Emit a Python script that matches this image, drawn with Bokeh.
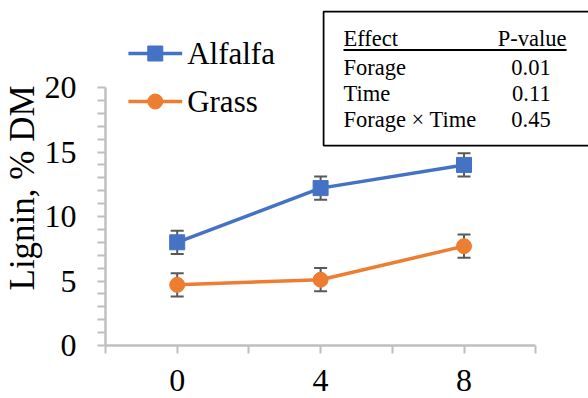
from bokeh.core.properties import value
from bokeh.embed import file_html
from bokeh.models import ColumnDataSource, FixedTicker, Range1d, TeeHead, Title, Whisker
from bokeh.plotting import figure
from bokeh.resources import INLINE

# ---- data -------------------------------------------------------------
weeks = [0, 4, 8]
alfalfa = [8.0, 12.2, 14.0]
alfalfa_se = [0.9, 0.9, 0.9]
grass = [4.7, 5.1, 7.7]
grass_se = [0.9, 0.9, 0.9]

effects = ["Forage", "Time", "Forage × Time"]
p_values = ["0.01", "0.11", "0.45"]

y_ticks = [0, 5, 10, 15, 20]
y_minor = [v for v in range(1, 20) if v % 5]
x_ticks = [-2, 0, 2, 4, 6, 8, 10]
x_labelled = [0, 4, 8]

# ---- layout -----------------------------------------------------------
W, H = 588, 398
LEFT, BOTTOM = 103, 53
FRAME_W, FRAME_H = W - LEFT, H - BOTTOM
PX_X, PX_Y = 36.0, 12.9          # pixels per data unit
X_START = -2
X_END = X_START + FRAME_W / PX_X
Y_END = FRAME_H / PX_Y

FONT = "Liberation Serif"
AXIS_GREY = "#bfbfbf"
ERR_GREY = "#595959"
BLUE = "#4472C4"
ORANGE = "#ED7D31"


def dx(px):
    """canvas x pixel -> data x"""
    return X_START + (px - LEFT) / PX_X


def dy(py):
    """canvas y pixel (from top) -> data y"""
    return (FRAME_H - py) / PX_Y


p = figure(
    width=W, height=H,
    x_range=Range1d(X_START, X_END), y_range=Range1d(0, Y_END),
    output_backend="svg", toolbar_location=None,
    min_border_left=LEFT, min_border_bottom=BOTTOM,
    min_border_top=0, min_border_right=0,
)
p.outline_line_color = None
p.grid.visible = False
p.background_fill_color = "white"
p.border_fill_color = "white"

# axes
for ax in (p.xaxis, p.yaxis):
    ax.axis_line_color = AXIS_GREY
    ax.axis_line_width = 2.5
    ax.major_tick_line_color = AXIS_GREY
    ax.major_tick_line_width = 2
    ax.minor_tick_line_color = AXIS_GREY
    ax.minor_tick_line_width = 2
    ax.major_tick_in = 0
    ax.major_tick_out = 8
    ax.minor_tick_in = 0
    ax.minor_tick_out = 8
    ax.major_label_text_font = FONT
    ax.major_label_text_font_size = "32px"
    ax.major_label_text_color = "black"

p.xaxis.ticker = FixedTicker(ticks=x_ticks)
p.xaxis.major_label_overrides = {t: (str(t) if t in x_labelled else "") for t in x_ticks}
p.xaxis.bounds = (-2, 10)
p.xaxis.minor_tick_line_color = None
p.xaxis.major_label_standoff = 16

p.yaxis.ticker = FixedTicker(ticks=y_ticks, minor_ticks=y_minor)
p.yaxis.bounds = (0, 20)
p.yaxis.major_label_standoff = 21

# y title, drawn as a rotated side title left of the axis
p.add_layout(Title(
    text="Lignin, % DM", align="left", offset=55,
    text_font=FONT, text_font_size="35px", text_font_style="normal",
    text_color="black", standoff=0,
), "left")

# ---- series -------------------------------------------------------------
def add_series(ys, se, color, marker):
    src = ColumnDataSource(dict(
        x=weeks, y=ys,
        lo=[v - e for v, e in zip(ys, se)],
        hi=[v + e for v, e in zip(ys, se)],
    ))
    p.add_layout(Whisker(
        source=src, base="x", upper="hi", lower="lo",
        line_color=ERR_GREY, line_width=2, level="underlay",
        upper_head=TeeHead(size=13, line_color=ERR_GREY, line_width=2),
        lower_head=TeeHead(size=13, line_color=ERR_GREY, line_width=2),
    ))
    p.line("x", "y", source=src, line_color=color, line_width=3.5)
    p.scatter("x", "y", source=src, marker=marker, size=15,
              fill_color=color, line_color=color)


add_series(alfalfa, alfalfa_se, BLUE, "square")
add_series(grass, grass_se, ORANGE, "circle")

# ---- legend -------------------------------------------------------------
# (label, colour, marker, key row y, text middle y)
legend_rows = [("Alfalfa", BLUE, "square", 53, 52.5), ("Grass", ORANGE, "circle", 101, 100.5)]
for name, color, marker, ly, ty in legend_rows:
    p.segment(x0=dx(126), x1=dx(180), y0=dy(ly), y1=dy(ly), line_color=color, line_width=3.5)
    p.scatter(x=[dx(153)], y=[dy(ly)], marker=marker, size=15, fill_color=color, line_color=color)
    p.text(x=[dx(185)], y=[dy(ty)], text=[name], text_font=value(FONT),
           text_font_size="31px", text_color="black",
           text_align="left", text_baseline="middle")

# ---- statistics table ---------------------------------------------------
p.quad(left=dx(322), right=dx(620), top=dy(11), bottom=dy(145),
       fill_color="white", line_color="black", line_width=1.75)
p.segment(x0=dx(342), x1=dx(566), y0=dy(49.5), y1=dy(49.5), line_color="black", line_width=2)

tbl = dict(text_font=value(FONT), text_font_size="22.5px", text_color="black",
           text_baseline="middle")
p.text(x=[dx(342)], y=[dy(38)], text=["Effect"], text_align="left", **tbl)
p.text(x=[dx(566)], y=[dy(38)], text=["P-value"], text_align="right", **tbl)
row_mid = [67, 93, 119]
p.text(x=[dx(342)] * 3, y=[dy(m) for m in row_mid], text=effects, text_align="left", **tbl)
p.text(x=[dx(550)] * 3, y=[dy(m) for m in row_mid], text=p_values, text_align="right", **tbl)

open("out.html", "w").write(file_html(p, INLINE))
